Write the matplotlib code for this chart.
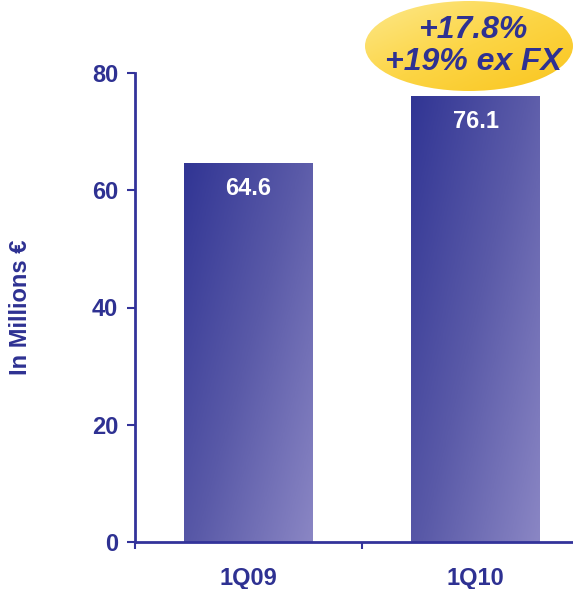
import matplotlib
matplotlib.use("Agg")
import matplotlib.pyplot as plt
import numpy as np
from matplotlib.patches import Ellipse
from matplotlib.colors import LinearSegmentedColormap

# data
categories = ["1Q09", "1Q10"]
values = [64.6, 76.1]
value_labels = ["64.6", "76.1"]
y_ticks = [0, 20, 40, 60, 80]
badge_text = "+17.8%\n+19% ex FX"

navy = "#2e3192"
axis_col = "#33339a"

plt.rcParams['font.family'] = ['Liberation Sans', 'DejaVu Sans']

fig = plt.figure(figsize=(5.73, 5.89), dpi=100)
ax = fig.add_axes([135/573, 47/589, 454/573, 469/589])

x = np.arange(len(categories))
bar_w = 0.568
bars = ax.bar(x, values, width=bar_w, color='none', edgecolor='none', zorder=2)

# diagonal gradient fill for each bar
bar_cmap = LinearSegmentedColormap.from_list("bar", ["#313594", "#5a5aa8", "#8a86c4"])
gx, gy = np.meshgrid(np.linspace(0, 1, 100), np.linspace(1, 0, 100))
grad = 0.55 * gx + 0.45 * (1 - gy)
for b in bars:
    x0, y0 = b.get_x(), b.get_y()
    w, h = b.get_width(), b.get_height()
    im = ax.imshow(grad, cmap=bar_cmap, extent=[x0, x0 + w, y0, y0 + h],
                   origin='upper', aspect='auto', zorder=2)
    im.set_clip_path(b)

for xi, v, lab in zip(x, values, value_labels):
    ax.text(xi, v - 4.3, lab, ha='center', va='center', color='white',
            fontsize=17, fontweight='bold')

ax.set_xlim(-0.5, 1.5)
ax.set_ylim(0, 80)
ax.set_yticks(y_ticks)
ax.set_yticklabels([str(t) for t in y_ticks], fontsize=17, fontweight='bold', color=navy)
ax.set_xticks(x)
ax.set_xticklabels(categories, fontsize=17, fontweight='bold', color=navy)
ax.tick_params(axis='x', length=0, pad=18)
ax.set_xticks([-0.5, 0.5, 1.5], minor=True)
ax.tick_params(axis='x', which='minor', length=5, color=axis_col, width=1.5)
ax.tick_params(axis='y', length=6, color=axis_col, width=1.5, pad=6)

for s in ['top', 'right']:
    ax.spines[s].set_visible(False)
for s in ['left', 'bottom']:
    ax.spines[s].set_color(axis_col)
    ax.spines[s].set_linewidth(2)
ax.patch.set_alpha(0)

fig.text(21/573, 1 - 307/589, "In Millions €", rotation=90, ha='center', va='center',
         fontsize=17, fontweight='bold', color=navy)

# yellow badge
ell_cmap = LinearSegmentedColormap.from_list("ell", ["#fde88a", "#fcd545", "#f9c51e"])
eax = fig.add_axes([365/573, 1 - 91/589, 208/573, 90/589], zorder=6)
eg = np.linspace(0, 1, 100)
egx, egy = np.meshgrid(eg, eg)
eax.imshow(0.5 * egx + 0.5 * egy, cmap=ell_cmap, extent=[0, 1, 0, 1],
           origin='upper', aspect='auto')
eax.set_xlim(0, 1)
eax.set_ylim(0, 1)
eax.axis('off')
clip = Ellipse((0.5, 0.5), 1, 1, transform=eax.transAxes)
eax.images[0].set_clip_path(clip)
eax.text(0.52, 0.5, badge_text, ha='center', va='center', fontsize=23,
         fontweight='bold', fontstyle='italic', color=navy, linespacing=1.12)

fig.savefig("out.png", dpi=100)
